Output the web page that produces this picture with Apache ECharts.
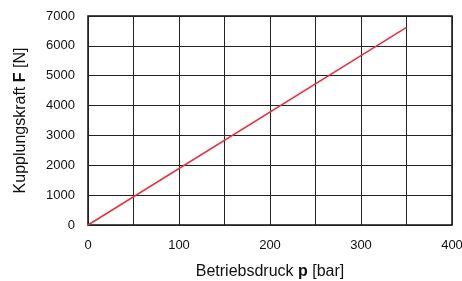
<!DOCTYPE html>
<html><head><meta charset="utf-8">
<script src="https://cdn.jsdelivr.net/npm/echarts@6/dist/echarts.min.js"></script>
<style>html,body{margin:0;padding:0;background:#fff}#c{width:462px;height:281px}</style>
</head><body><div id="c"></div>
<script>
var pressure = [0, 350];
var force = [0, 6620];
var xTicks = [0, 100, 200, 300, 400];
var yTicks = [0, 1000, 2000, 3000, 4000, 5000, 6000, 7000];

var chart = echarts.init(document.getElementById('c'), null, {renderer: 'canvas'});
var ff = 'Liberation Sans, Arial, sans-serif';
chart.setOption({
  animation: false,
  grid: {left: 88, right: 10, top: 16, bottom: 56, containLabel: false, outerBoundsMode: 'none', show: true, borderColor: '#111', borderWidth: 1.5, backgroundColor: 'transparent'},
  xAxis: {
    type: 'value', min: 0, max: 400, interval: 50,
    axisLine: {show: false}, axisTick: {show: false},
    splitLine: {show: true, lineStyle: {color: '#222', width: 1}},
    axisLabel: {margin: 14, color: '#111', fontSize: 13, fontFamily: ff,
      formatter: function (v) { return xTicks.indexOf(v) >= 0 ? String(v) : ''; }},
    name: '{n|Betriebsdruck }{b|p}{n| [bar]}', nameLocation: 'middle', nameGap: 39,
    nameTextStyle: {rich: {n: {fontSize: 16, fontFamily: ff, color: '#111'}, b: {fontSize: 16, fontFamily: ff, fontWeight: 'bold', color: '#111'}}}
  },
  yAxis: {
    type: 'value', min: 0, max: 7000, interval: 1000,
    axisLine: {show: false}, axisTick: {show: false},
    splitLine: {show: true, lineStyle: {color: '#222', width: 1}},
    axisLabel: {margin: 13, color: '#111', fontSize: 13, fontFamily: ff,
      formatter: function (v) { return yTicks.indexOf(v) >= 0 ? String(v) : ''; }},
    name: '{n|Kupplungskraft }{b|F}{n| [N]}', nameLocation: 'middle', nameGap: 59,
    nameTextStyle: {rich: {n: {fontSize: 16, fontFamily: ff, color: '#111'}, b: {fontSize: 16, fontFamily: ff, fontWeight: 'bold', color: '#111'}}}
  },
  series: [{
    type: 'line', data: pressure.map(function (p, i) { return [p, force[i]]; }),
    showSymbol: false, lineStyle: {color: '#e8303a', width: 1.5}
  }]
});
</script></body></html>
